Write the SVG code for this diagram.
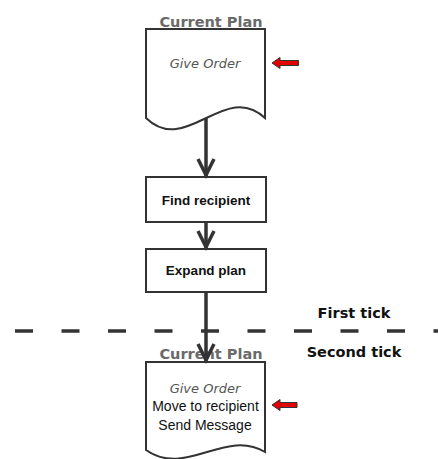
<svg xmlns="http://www.w3.org/2000/svg" width="438" height="459" viewBox="0 0 438 459">
<style>
.bg{fill:#ffffff}
.doc,.box{fill:#ffffff;stroke:#333333;stroke-width:2}
.edge{stroke:#333333;stroke-width:3.5;fill:none}
.tick{stroke:#333333;stroke-width:3.5;stroke-dasharray:18 28.5}
.ptr{fill:#e00000;stroke:#333333;stroke-width:1}
.title{font-family:"DejaVu Sans",sans-serif;font-weight:bold;font-size:14.5px;fill:#6a6a6a;text-anchor:middle}
.lbl{font-family:"Liberation Sans",Arial,sans-serif;font-weight:bold;font-size:13.5px;fill:#111111;text-anchor:middle}
.ital{font-family:"DejaVu Sans",sans-serif;font-style:italic;font-size:13px;fill:#555555;text-anchor:middle}
.reg{font-family:"Liberation Sans",Arial,sans-serif;font-size:14px;fill:#111111;text-anchor:middle}
.tk{font-family:"DejaVu Sans",sans-serif;font-weight:bold;font-size:14.5px;fill:#111111;text-anchor:middle}
</style>
<defs>
<marker id="vhead" markerUnits="userSpaceOnUse" markerWidth="24" markerHeight="20" viewBox="0 0 24 20" refX="19" refY="9" orient="auto" overflow="visible">
<path d="M1,1 L17,9 L1,17" fill="none" stroke="#333333" stroke-width="3.5"/>
</marker>
</defs>
<rect class="bg" x="0" y="0" width="438" height="459"/>
<g id="tick-line">
<line class="tick" x1="15" y1="331" x2="438" y2="331"/>
<text class="tk" x="354" y="318">First tick</text>
<text class="tk" x="354" y="357">Second tick</text>
</g>
<g id="plan1">
<text class="title" x="211" y="27">Current Plan</text>
<path class="doc" d="M146,29 H265 V118 C225,80 186,157 146,118 Z"/>
<text class="ital" x="205" y="68">Give Order</text>
<polygon class="ptr" points="272,63 280,57.5 280,60.5 298.5,60.5 298.5,65.5 280,65.5 280,68.5"/>
</g>
<g id="find">
<rect class="box" x="146" y="177" width="120" height="45"/>
<text class="lbl" x="206" y="205">Find recipient</text>
</g>
<g id="expand">
<rect class="box" x="146" y="249" width="120" height="43"/>
<text class="lbl" x="206" y="275">Expand plan</text>
</g>
<g id="plan2">
<text class="title" x="211" y="359">Current Plan</text>
<path class="doc" d="M146,362 H265 V452 C225,428 186,478 146,450 Z"/>
<text class="ital" x="205" y="392.5">Give Order</text>
<text class="reg" x="205.5" y="411">Move to recipient</text>
<text class="reg" x="205" y="429.5">Send Message</text>
<polygon class="ptr" points="272,405 280,399.5 280,402.5 297,402.5 297,407.5 280,407.5 280,410.5"/>
</g>
<g id="connectors">
<line class="edge" x1="206" y1="118" x2="206" y2="177" marker-end="url(#vhead)"/>
<line class="edge" x1="206" y1="222" x2="206" y2="249" marker-end="url(#vhead)"/>
<line class="edge" x1="206" y1="292" x2="206" y2="362" marker-end="url(#vhead)"/>
</g>
</svg>
